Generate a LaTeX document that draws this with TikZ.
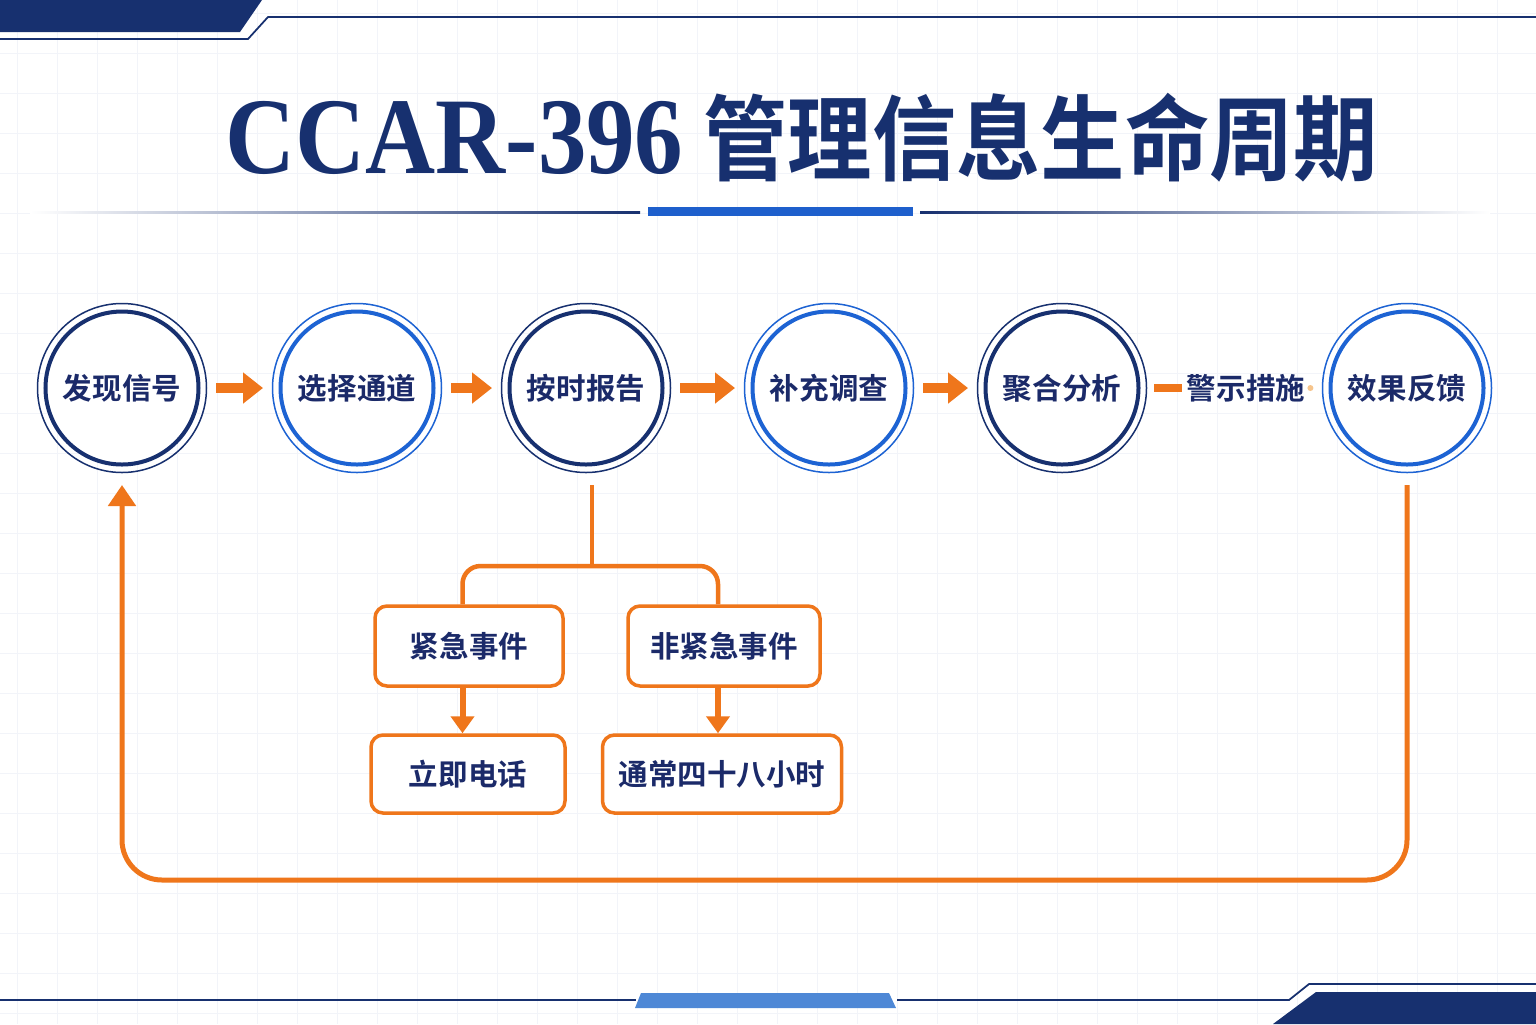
\documentclass[tikz,border=0pt]{standalone}
\usepackage{graphicx}
\usepackage{fontspec}
\setmainfont{Liberation Serif}
\newfontfamily\cjk{Noto Sans CJK SC}[BoldFont={Noto Sans CJK SC Bold}]
\usetikzlibrary{arrows.meta,positioning}
\definecolor{navy}{HTML}{17306F}
\definecolor{ringblue}{HTML}{1D63D3}
\definecolor{inkblue}{HTML}{1B2A69}
\definecolor{flame}{HTML}{EF761B}
\definecolor{barblue}{HTML}{1E5FCC}
\definecolor{skyblue}{HTML}{4E88D6}
\definecolor{gridc}{HTML}{F2F4F9}
\definecolor{dotc}{HTML}{F6C48C}
\tikzset{
  label font/.style={font=\cjk\bfseries\fontsize{16.8}{20}\selectfont,text=inkblue},
}
\begin{document}
\begin{tikzpicture}[x=0.2mm,y=-0.2mm,
    stage/.style={circle,draw=#1,line width=0.8mm,minimum size=30.6mm,inner sep=0pt,fill=white,label font},
    halo/.style={draw=#1,line width=0.3mm},
    advance/.style={draw=flame,line width=2mm,-{Triangle[length=4mm,width=6mm]},shorten <=3.1mm,shorten >=3.1mm},
    event/.style={draw=flame,line width=0.7mm,rounded corners=2.4mm,fill=white,minimum height=16mm,inner sep=0pt,label font},
    branch/.style={draw=flame,line width=0.9mm,rounded corners=3.6mm},
    drop/.style={draw=flame,line width=1.2mm,-{Triangle[length=3.4mm,width=4.6mm]}},
    loopback/.style={draw=flame,line width=1mm,rounded corners=8mm,-{Triangle[length=4.2mm,width=5.4mm]}},
    gridline/.style={draw=gridc,line width=0.15mm}]
  \useasboundingbox (0,0) rectangle (1536,1024);
  \fill[white] (0,0) rectangle (1536,1024);
  \foreach \gx in {17,57,...,1536} \draw[gridline] (\gx,0) -- (\gx,1024);
  \foreach \gy in {13,53,...,1024} \draw[gridline] (0,\gy) -- (1536,\gy);

  \fill[navy] (0,0) -- (262,0) -- (240,32) -- (0,32) -- cycle;
  \draw[navy,line width=0.35mm] (0,39) -- (248,39) -- (268,17) -- (1536,17);
  \draw[navy,line width=0.35mm] (0,1000) -- (636,1000);
  \fill[skyblue] (641,993) -- (889,993) -- (896,1008) -- (635,1008) -- cycle;
  \draw[navy,line width=0.35mm] (897,1000) -- (1289,1000) -- (1309,984) -- (1536,984);
  \fill[navy] (1316,992) -- (1536,992) -- (1536,1024) -- (1273,1024) -- cycle;

  \node[text=navy,inner sep=0pt] (title) at (802,138)
    {\bfseries\fontsize{62}{70}\selectfont\scalebox{0.89}[1]{CCAR-396}\hspace{4mm}{\cjk\fontsize{48}{56}\selectfont\scalebox{1}[1.1]{管理信息生命周期}}};
  \shade[left color=white,right color=navy] (30,211) rectangle (640,213);
  \fill[barblue] (648,207) rectangle (913,216);
  \shade[left color=navy,right color=white] (920,211) rectangle (1490,213);

  \foreach \name/\x/\c/\t in {discover/122/navy/发现信号, channel/357/ringblue/选择通道,
      report/586/navy/按时报告, investigate/829/ringblue/补充调查,
      aggregate/1062/navy/聚合分析, feedback/1407/ringblue/效果反馈} {
    \node[stage=\c] (\name) at (\x,388) {\t};
    \draw[halo=\c] (\name) circle[radius=84.5];
  }
  \foreach \a/\b in {discover/channel, channel/report, report/investigate, investigate/aggregate}
    \draw[advance] (\a) -- (\b);

  \node[label font,inner sep=0pt] (warn) at (1246,388) {警示措施};
  \draw[flame,line width=1.6mm,shorten <=2.7mm,shorten >=1mm] (aggregate) -- (warn);
  \fill[dotc] ([xshift=1mm]warn.east) circle[radius=3];

  \node[event,minimum width=37.6mm] (urgent) at (469,646) {紧急事件};
  \node[event,minimum width=38.4mm] (nonurgent) at (724,646) {非紧急事件};
  \node[event,minimum width=38.8mm,minimum height=15.6mm] (phone) at (468,774) {立即电话};
  \node[event,minimum width=47.8mm,minimum height=15.6mm] (hours) at (722,774) {通常四十八小时};

  \coordinate (forkrow) at (0,566);
  \draw[branch] ([xshift=1.2mm,yshift=-3.7mm]report.south) -- ([xshift=1.2mm]report |- forkrow);
  \draw[branch] ([xshift=-1.3mm]urgent.north) |- (report |- forkrow) -| ([xshift=-1.2mm]nonurgent.north);
  \draw[drop] ([xshift=-1.3mm]urgent.south) -- ([xshift=-1.3mm]urgent.south |- phone.north);
  \draw[drop] ([xshift=-1.2mm]nonurgent.south) -- ([xshift=-1.2mm]nonurgent.south |- hours.north);

  \coordinate (loopfloor) at (0,880);
  \draw[loopback] ([yshift=-3.7mm]feedback.south) -- (feedback |- loopfloor)
    -- (discover |- loopfloor) -- ([yshift=-3.7mm]discover.south);
\end{tikzpicture}
\end{document}
